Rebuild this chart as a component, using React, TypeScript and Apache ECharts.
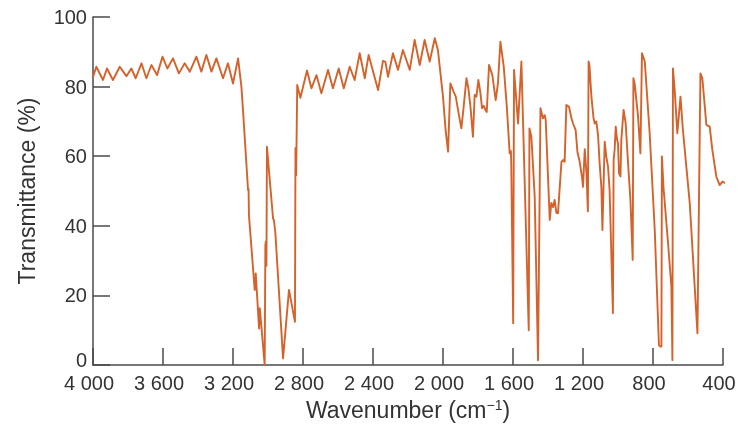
import React, { useEffect, useRef } from "react";
import * as echarts from "echarts";

const wavenumbers = [
  4000, 3981, 3943, 3920, 3886, 3847, 3809, 3781, 3756, 3723, 3695, 3666, 3634, 3603, 3575, 3543, 3509, 3476, 3447, 3409,
  3381, 3352, 3323, 3295, 3257, 3229, 3200, 3171, 3152, 3143, 3114, 3111, 3109, 3076, 3070, 3051, 3047, 3036, 3019, 3015,
  3012, 3009, 3006, 2990, 2971, 2966, 2958, 2914, 2880, 2846, 2843, 2839, 2833, 2815, 2777, 2752, 2723, 2695, 2657, 2629,
  2596, 2567, 2533, 2505, 2476, 2447, 2425, 2371, 2343, 2329, 2314, 2286, 2257, 2229, 2190, 2162, 2133, 2105, 2076, 2047,
  2029, 2000, 1985, 1971, 1958, 1939, 1927, 1909, 1895, 1882, 1866, 1855, 1843, 1829, 1819, 1809, 1798, 1786, 1777, 1767,
  1758, 1750, 1737, 1718, 1699, 1686, 1672, 1653, 1635, 1619, 1612, 1610, 1599, 1594, 1571, 1552, 1510, 1506, 1495, 1476,
  1457, 1443, 1429, 1419, 1413, 1390, 1381, 1371, 1362, 1352, 1343, 1323, 1314, 1305, 1295, 1280, 1266, 1257, 1242, 1232,
  1219, 1206, 1200, 1190, 1180, 1172, 1168, 1163, 1152, 1140, 1133, 1124, 1114, 1105, 1095, 1089, 1076, 1067, 1057, 1048,
  1029, 1025, 1019, 1013, 1006, 1000, 994, 986, 981, 968, 956, 943, 929, 916, 912, 905, 886, 872, 863, 847,
  819, 790, 766, 758, 752, 749, 740, 714, 695, 689, 686, 676, 661, 643, 629, 590, 546, 529, 518, 495,
  476, 461, 438, 419, 403, 385,
];

const transmittance = [
  82.8, 85.7, 81.9, 85.2, 81.9, 85.7, 83.0, 85.2, 82.4, 86.7, 82.4, 86.2, 83.3, 88.6, 85.2, 88.1, 83.8, 86.7, 84.3, 88.6,
  84.3, 89.1, 84.3, 88.1, 82.4, 86.7, 80.9, 88.1, 80.0, 73.3, 50.3, 50.5, 43.1, 21.6, 26.3, 10.5, 16.3, 10.0, 0.0, 34.5,
  35.5, 28.5, 62.7, 53.2, 42.1, 41.6, 38.0, 1.9, 21.6, 12.4, 62.3, 54.5, 80.5, 76.8, 84.6, 79.5, 83.3, 78.1, 84.8, 79.5,
  85.2, 79.5, 85.7, 81.9, 89.6, 82.4, 89.1, 79.0, 87.4, 87.1, 82.8, 89.6, 84.8, 90.5, 84.8, 93.4, 86.2, 93.4, 87.2, 93.9,
  90.5, 77.1, 67.5, 61.3, 80.9, 78.5, 77.1, 71.8, 68.0, 74.2, 82.4, 79.5, 74.2, 65.6, 77.6, 77.1, 81.9, 78.1, 73.8, 74.5,
  73.3, 72.7, 86.2, 83.3, 76.1, 80.9, 92.9, 85.8, 74.0, 60.8, 61.5, 58.0, 12.0, 84.8, 69.4, 87.2, 10.0, 68.0, 65.6, 48.4,
  1.4, 73.8, 70.9, 71.8, 70.4, 41.7, 46.6, 45.4, 47.4, 43.7, 43.6, 58.4, 58.9, 58.4, 74.7, 74.2, 70.9, 69.4, 67.5, 61.3,
  58.4, 54.1, 51.2, 62.0, 55.0, 44.2, 87.2, 86.0, 77.2, 71.0, 69.4, 70.0, 66.0, 58.0, 51.0, 38.8, 64.2, 59.9, 57.0, 50.3,
  14.9, 58.9, 62.0, 68.5, 65.0, 63.6, 55.0, 54.2, 64.7, 73.3, 69.4, 58.4, 47.4, 30.2, 82.4, 80.9, 71.8, 60.8, 89.6, 87.2,
  66.6, 38.8, 5.7, 5.3, 5.3, 59.9, 51.0, 35.0, 22.5, 1.4, 85.2, 79.0, 66.6, 77.1, 67.5, 46.5, 9.1, 83.8, 82.4, 69.0,
  68.5, 61.8, 54.1, 51.7, 52.7, 52.2,
];

const xTicks = [4000, 3600, 3200, 2800, 2400, 2000, 1600, 1200, 800, 400];
const xTickLabels = ["4 000", "3 600", "3 200", "2 800", "2 400", "2 000", "1 600", "1 200", "800", "400"];
const yTicks = [0, 20, 40, 60, 80, 100];
const yTickLabels = ["0", "20", "40", "60", "80", "100"];

const AXIS = "#4a4a4a";
const TEXT = "#333333";
const LINE = "#d5622b";
const FONT = "'Liberation Sans', Arial, Helvetica, sans-serif";

export default function App() {
  const ref = useRef<HTMLDivElement>(null);
  useEffect(() => {
    if (!ref.current) return;
    const chart = echarts.init(ref.current, null, { renderer: "svg" });
    const xMap = new Map<number, string>(xTicks.map((t, i) => [t, xTickLabels[i]]));
    const yMap = new Map<number, string>(yTicks.map((t, i) => [t, yTickLabels[i]]));
    const data = wavenumbers.map((w, i) => [w, transmittance[i]]);
    chart.setOption({
      animation: false,
      grid: { left: 93, right: 27, top: 17, bottom: 67 },
      xAxis: {
        type: "value",
        inverse: true,
        min: 400,
        max: 4000,
        interval: 400,
        axisLine: { show: true, lineStyle: { color: AXIS, width: 1.5 } },
        axisTick: { show: true, inside: true, length: 17, lineStyle: { color: AXIS, width: 1.5 } },
        axisLabel: {
          formatter: (v: number) => xMap.get(v) ?? "",
          fontSize: 20,
          lineHeight: 18,
          color: TEXT,
          fontFamily: FONT,
          margin: 9,
          showMinLabel: true,
          showMaxLabel: true,
          padding: [0, 8, 0, 0],
        },
        splitLine: { show: false },
        name: "Wavenumber (cm{sup|−1})",
        nameLocation: "middle",
        nameGap: 33,
        nameTextStyle: {
          fontSize: 23,
          color: TEXT,
          fontFamily: FONT,
          rich: {
            sup: { fontSize: 14, verticalAlign: "top", lineHeight: 14, color: TEXT, fontFamily: FONT },
          },
        },
      },
      yAxis: {
        type: "value",
        min: 0,
        max: 100,
        interval: 20,
        axisLine: { show: true, lineStyle: { color: AXIS, width: 1.5 } },
        axisTick: { show: true, inside: true, length: 17, lineStyle: { color: AXIS, width: 1.5 } },
        axisLabel: {
          formatter: (v: number) => (v === 0 ? "{zero|" + (yMap.get(v) ?? "") + "}" : yMap.get(v) ?? ""),
          fontSize: 20,
          lineHeight: 18,
          color: TEXT,
          fontFamily: FONT,
          margin: 6,
          showMinLabel: true,
          showMaxLabel: true,
          rich: {
            zero: { fontSize: 20, lineHeight: 18, color: TEXT, fontFamily: FONT, padding: [0, 0, 10, 0] },
          },
        },
        splitLine: { show: false },
        name: "Transmittance (%)",
        nameLocation: "middle",
        nameGap: 55,
        nameTextStyle: { fontSize: 23, color: TEXT, fontFamily: FONT },
      },
      series: [
        {
          type: "line",
          data,
          showSymbol: false,
          symbol: "none",
          clip: false,
          silent: true,
          lineStyle: { color: LINE, width: 1.9, join: "round" },
        },
      ],
    });
    return () => chart.dispose();
  }, []);
  return <div ref={ref} style={{ position: "fixed", left: 0, top: 0, width: 750, height: 432 }} />;
}
